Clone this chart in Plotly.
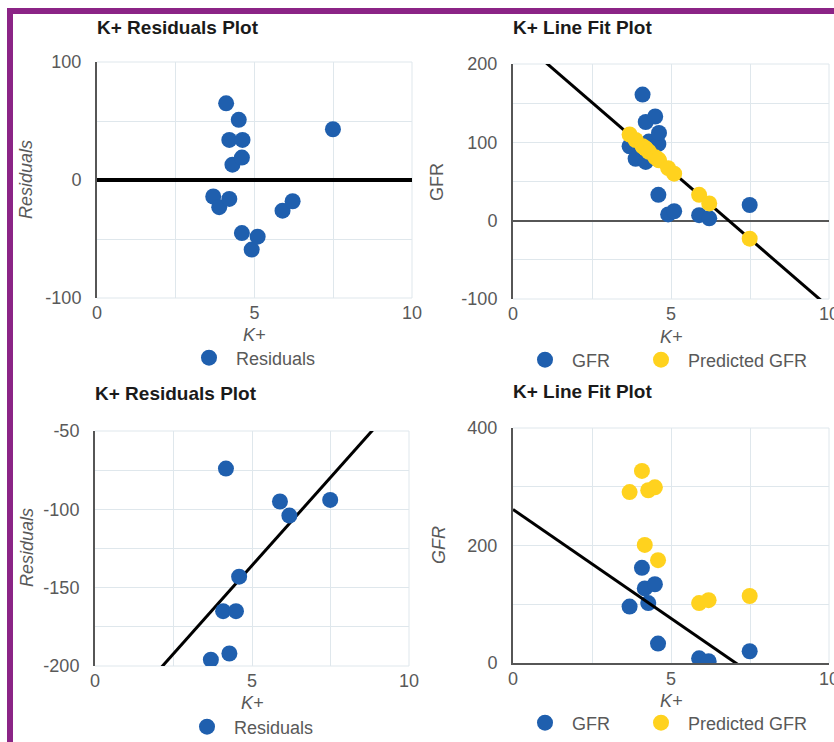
import plotly.graph_objects as go

# ---------------- data ----------------
# Top row: 15 observations
k_top = [3.69, 3.88, 4.10, 4.20, 4.20, 4.30, 4.50, 4.60, 4.62, 4.60, 4.91, 5.10, 5.89, 6.21, 7.49]
gfr_top = [95, 79, 161, 126, 75, 101, 133, 98, 112, 33, 8, 12, 7, 3, 20]
pred_top = [110, 103, 95, 92, 92, 88, 81, 78, 77, 78, 67, 60, 33, 22, -23]
resid_top = [-14, -23, 65, 34, -16, 13, 51, 19, 34, -45, -59, -48, -26, -18, 43]
trend_top_x = [0, 10]
trend_top_y = [238, -110.5]

# Bottom row: 9 observations
k_bot = [3.69, 4.08, 4.17, 4.28, 4.49, 4.59, 5.89, 6.19, 7.49]
gfr_bot = [96, 162, 127, 102, 134, 33, 8, 3, 20]
pred_bot = [291, 327, 201, 294, 299, 175, 102, 107, 114]
resid_bot = [-196, -165, -74, -192, -165, -143, -95, -104, -94]
trend_resid_bot_x = [0, 10]
trend_resid_bot_y = [-248.4, -23.4]
trend_fit_bot_x = [0, 10]
trend_fit_bot_y = [261.5, -109.5]

titles = ["K+ Residuals Plot", "K+ Line Fit Plot", "K+ Residuals Plot", "K+ Line Fit Plot"]
x_title = "K+"
y_titles = ["<i>Residuals</i>", "GFR", "<i>Residuals</i>", "<i>GFR</i>"]

# tick labels
x_tickvals = [0, 5, 10]
x_ticktext = ["0", "5", "10"]
y_tickvals = [[-100, 0, 100], [-100, 0, 100, 200], [-200, -150, -100, -50], [0, 200, 400]]
y_ticktext = [["-100", "0", "100"], ["-100", "0", "100", "200"],
              ["-200", "-150", "-100", "-50"], ["0", "200", "400"]]
y_ranges = [[-100, 100], [-100, 200], [-200, -50], [0, 400]]
y_minor = [50, 50, 25, 100]

# ---------------- styling ----------------
W, H = 834, 742
BLUE = "#1F5FAE"
YELLOW = "#FFD21E"
GRID = "#DFE7EC"
AXIS = "#565656"
TICK = "#595959"
FONT = "Liberation Sans, Arial, sans-serif"
PURPLE = "#8B2486"


def fx(px):
    return px / W


def fy(py):
    return 1 - py / H


# plot areas in pixels: (left, right, top, bottom)
boxes = [
    (97, 412, 62, 298),
    (513, 829, 64, 299),
    (95, 409, 431, 666),
    (513, 829, 428, 663),
]

fig = go.Figure()

# panel 1: residuals (top)
fig.add_trace(go.Scatter(x=k_top, y=resid_top, mode="markers", name="Residuals",
                         marker=dict(color=BLUE, size=16), xaxis="x", yaxis="y", legend="legend"))

# panel 2: line fit (top)
fig.add_trace(go.Scatter(x=trend_top_x, y=trend_top_y, mode="lines", showlegend=False,
                         line=dict(color="black", width=3), xaxis="x2", yaxis="y2"))
fig.add_trace(go.Scatter(x=k_top, y=gfr_top, mode="markers", name="GFR",
                         marker=dict(color=BLUE, size=16), xaxis="x2", yaxis="y2", legend="legend2"))
fig.add_trace(go.Scatter(x=k_top, y=pred_top, mode="markers", name="Predicted GFR",
                         marker=dict(color=YELLOW, size=16), xaxis="x2", yaxis="y2", legend="legend5"))

# panel 3: residuals (bottom)
fig.add_trace(go.Scatter(x=trend_resid_bot_x, y=trend_resid_bot_y, mode="lines", showlegend=False,
                         line=dict(color="black", width=3), xaxis="x3", yaxis="y3"))
fig.add_trace(go.Scatter(x=k_bot, y=resid_bot, mode="markers", name="Residuals",
                         marker=dict(color=BLUE, size=16), xaxis="x3", yaxis="y3", legend="legend3"))

# panel 4: line fit (bottom)
fig.add_trace(go.Scatter(x=k_bot, y=gfr_bot, mode="markers", name="GFR",
                         marker=dict(color=BLUE, size=16), xaxis="x4", yaxis="y4", legend="legend4"))
fig.add_trace(go.Scatter(x=trend_fit_bot_x, y=trend_fit_bot_y, mode="lines", showlegend=False,
                         line=dict(color="black", width=3), xaxis="x4", yaxis="y4"))
fig.add_trace(go.Scatter(x=k_bot, y=pred_bot, mode="markers", name="Predicted GFR",
                         marker=dict(color=YELLOW, size=16), xaxis="x4", yaxis="y4", legend="legend6"))

layout = dict(
    width=W, height=H,
    margin=dict(l=0, r=0, t=0, b=0, autoexpand=False),
    paper_bgcolor="white", plot_bgcolor="white",
    font=dict(family=FONT, size=18, color=TICK),
    annotations=[], shapes=[],
)

for i, (l, r, t, b) in enumerate(boxes):
    n = "" if i == 0 else str(i + 1)
    xa = dict(
        domain=[fx(l), fx(r)], range=[0, 10], anchor="y" + n, automargin=False,
        tickmode="array", tickvals=x_tickvals, ticktext=x_ticktext,
        showgrid=True, gridcolor=GRID, gridwidth=1,
        minor=dict(dtick=2.5, tick0=0, showgrid=True, gridcolor=GRID, gridwidth=1),
        zeroline=False, showline=(i == 3), linecolor=AXIS, linewidth=2,
        ticks="", ticklabelstandoff=(-2 if i == 3 else 2), ticklabeloverflow="allow",
        tickfont=dict(family=FONT, size=18, color=TICK),
    )
    ya = dict(
        domain=[fy(b), fy(t)], range=y_ranges[i], anchor="x" + n, automargin=False,
        tickmode="array", tickvals=y_tickvals[i], ticktext=y_ticktext[i],
        showgrid=True, gridcolor=GRID, gridwidth=1,
        minor=dict(dtick=y_minor[i], tick0=0, showgrid=True, gridcolor=GRID, gridwidth=1),
        zeroline=(i in (0, 1)),
        zerolinecolor=("black" if i == 0 else AXIS), zerolinewidth=(4 if i == 0 else 2),
        showline=True, linecolor=AXIS, linewidth=2,
        ticks="", ticklabelstandoff=10, ticklabeloverflow="allow",
        tickfont=dict(family=FONT, size=18, color=TICK),
    )
    layout["xaxis" + n] = xa
    layout["yaxis" + n] = ya

    # light plot-area border (top, right, bottom where not an axis)
    for (x0, y0, x1, y1) in [(0, 1, 1, 1), (1, 0, 1, 1)] + ([(0, 0, 1, 0)] if i != 3 else []):
        layout["shapes"].append(dict(type="line", xref="x%s domain" % n, yref="y%s domain" % n,
                                     x0=x0, y0=y0, x1=x1, y1=y1, layer="below",
                                     line=dict(color=GRID, width=1)))

    # chart title
    layout["annotations"].append(dict(
        text="<b>%s</b>" % titles[i], xref="paper", yref="paper",
        x=fx(l - 2), y=fy([27, 27, 393, 391][i]), xanchor="left", yanchor="middle",
        showarrow=False, font=dict(family=FONT, size=19, color="#1a1a1a")))
    # x axis title
    layout["annotations"].append(dict(
        text="<i>%s</i>" % x_title, xref="paper", yref="paper",
        x=fx((l + r) / 2), y=fy([335, 337, 703, 701][i]), xanchor="center", yanchor="middle",
        showarrow=False, font=dict(family=FONT, size=18, color=TICK)))
    # y axis title
    layout["annotations"].append(dict(
        text=y_titles[i], xref="paper", yref="paper",
        x=fx([26, 437, 27, 439][i]), y=fy([180, 182, 548, 545][i]), xanchor="center", yanchor="middle",
        textangle=-90, showarrow=False, font=dict(family=FONT, size=18, color=TICK)))

# legends: symbol centre sits itemwidth/2 + 5 px right of the legend's left edge
leg_common = dict(orientation="h", bgcolor="rgba(0,0,0,0)", font=dict(family=FONT, size=18, color=TICK),
                  xanchor="left", yanchor="middle", itemsizing="trace", itemwidth=44)
layout["legend"] = dict(leg_common, x=fx(182), y=fy(358))
layout["legend2"] = dict(leg_common, x=fx(518), y=fy(360))
layout["legend5"] = dict(leg_common, x=fx(634), y=fy(360))
layout["legend3"] = dict(leg_common, x=fx(180), y=fy(727))
layout["legend4"] = dict(leg_common, x=fx(518), y=fy(723))
layout["legend6"] = dict(leg_common, x=fx(634), y=fy(723))

# purple frame
layout["shapes"].append(dict(type="rect", xref="paper", yref="paper",
                             x0=fx(10), y0=fy(11), x1=fx(W + 20), y1=fy(H + 20),
                             line=dict(color=PURPLE, width=6), fillcolor="rgba(0,0,0,0)", layer="above"))

fig.update_layout(**layout)
fig.write_html("out.html", config={"displayModeBar": False},
               post_script="document.body.style.margin='0';document.body.style.overflow='hidden';")
